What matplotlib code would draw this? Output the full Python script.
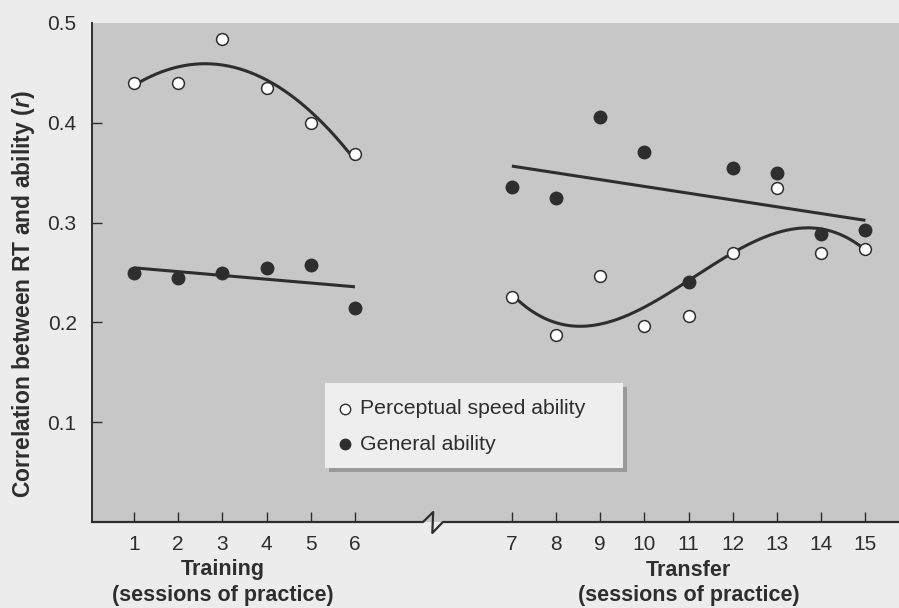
import numpy as np
import matplotlib.pyplot as plt
import matplotlib.transforms as mtransforms
from matplotlib.patches import Rectangle

plt.rcParams['font.family'] = ['Liberation Sans', 'DejaVu Sans']
plt.rcParams['mathtext.fontset'] = 'custom'
plt.rcParams['mathtext.bfit'] = 'Liberation Sans:italic:bold'

# sessions and correlations (r) for each ability measure
training_sessions = [1, 2, 3, 4, 5, 6]
transfer_sessions = [7, 8, 9, 10, 11, 12, 13, 14, 15]
training_perceptual = [0.440, 0.440, 0.484, 0.435, 0.400, 0.369]
training_general = [0.250, 0.244, 0.250, 0.255, 0.258, 0.214]
transfer_perceptual = [0.225, 0.187, 0.246, 0.196, 0.206, 0.270, 0.335, 0.270, 0.274]
transfer_general = [0.336, 0.325, 0.406, 0.371, 0.240, 0.355, 0.350, 0.289, 0.293]
y_ticks = [0.1, 0.2, 0.3, 0.4, 0.5]

PAGE = '#ececec'
PANEL = '#c7c7c7'
INK = '#2e2e2e'
GAP = 2.55          # horizontal room for the axis break between 6 and 7
W, H = 899, 608


def trend(x, y, deg):
    coef = np.polyfit(x, y, deg)
    xs = np.linspace(min(x), max(x), 200)
    return xs, np.polyval(coef, xs)


fig = plt.figure(figsize=(W / 100, H / 100), dpi=100, facecolor=PAGE)
ax = fig.add_axes([92 / W, 1 - 522 / H, 807 / W, 499 / H])
ax.set_facecolor(PANEL)

x_train = np.array(training_sessions, dtype=float)
x_trans = np.array(transfer_sessions, dtype=float) + GAP

# fitted trends
for x, y, deg in [(x_train, training_perceptual, 2), (x_train, training_general, 1),
                  (x_trans, transfer_perceptual, 3), (x_trans, transfer_general, 1)]:
    xs, ys = trend(x, y, deg)
    ax.plot(xs, ys, color=INK, lw=2.2, zorder=2, solid_capstyle='butt')

# data points
for x, y in [(x_train, training_perceptual), (x_trans, transfer_perceptual)]:
    ax.plot(x, y, 'o', ms=8.5, mfc='white', mec=INK, mew=1.1, zorder=3)
for x, y in [(x_train, training_general), (x_trans, transfer_general)]:
    ax.plot(x, y, 'o', ms=9, mfc=INK, mec=INK, zorder=3)

ax.set_xlim(0.05, 18.31)
ax.set_ylim(0, 0.5)

ax.set_xticks(list(x_train) + list(x_trans))
ax.set_xticklabels([str(s) for s in training_sessions + transfer_sessions])
ax.set_yticks(y_ticks)
ax.set_yticklabels([f'{v:.1f}' for v in y_ticks])
ax.tick_params(direction='in', length=7, width=1, colors=INK, labelsize=15)
ax.tick_params(axis='x', pad=9)
ax.tick_params(axis='y', pad=11)
ax.yaxis.get_major_ticks()[-1].tick1line.set_visible(False)

for side in ['top', 'right', 'bottom']:
    ax.spines[side].set_visible(False)
ax.spines['left'].set_color(INK)
ax.spines['left'].set_linewidth(1.4)

# bottom axis with a zigzag break
blend = mtransforms.blended_transform_factory(ax.transData, ax.transAxes)
bx = [0.05, 7.54, 7.77, 7.75, 7.99, 18.31]
by = [0, 0, 10 / 499, -11 / 499, 0, 0]
ax.plot(bx, by, color=INK, lw=1.6, transform=blend, clip_on=False, zorder=5)

# axis titles
def ay(py):
    return (522 - py) / 499

for xc, name in [(3, 'Training'), (11 + GAP, 'Transfer')]:
    ax.text(xc, ay(570), name, transform=blend, ha='center', va='center',
            fontsize=15.5, fontweight='bold', color=INK)
    ax.text(xc, ay(595), '(sessions of practice)', transform=blend, ha='center',
            va='center', fontsize=15.5, fontweight='bold', color=INK)

fig.text(24 / W, 1 - 294 / H, r'Correlation between RT and ability ($\mathbfit{r}$)',
         rotation=90, ha='center', va='center', fontsize=16.5, fontweight='bold', color=INK)

# key box with drop shadow
def ax_xy(px, py):
    return (px - 92) / 807, (522 - py) / 499

sx, sy = ax_xy(329, 472)
ax.add_patch(Rectangle((sx, sy), 298 / 807, 85 / 499, transform=ax.transAxes,
                       facecolor='#9a9a9a', edgecolor='none', zorder=6))
lx, ly = ax_xy(325, 468)
ax.add_patch(Rectangle((lx, ly), 298 / 807, 85 / 499, transform=ax.transAxes,
                       facecolor='#eeeeee', edgecolor='none', zorder=7))
for py, mfc, label in [(409, 'white', 'Perceptual speed ability'), (444, INK, 'General ability')]:
    mx, my = ax_xy(345, py)
    ax.plot([mx], [my], 'o', ms=7.5, mfc=mfc, mec=INK, mew=1.0,
            transform=ax.transAxes, zorder=8, clip_on=False)
    tx, _ = ax_xy(360, py)
    ax.text(tx, my, label, transform=ax.transAxes, ha='left', va='center',
            fontsize=15.3, color=INK, zorder=8)

fig.savefig('out.png', dpi=100, facecolor=PAGE)
